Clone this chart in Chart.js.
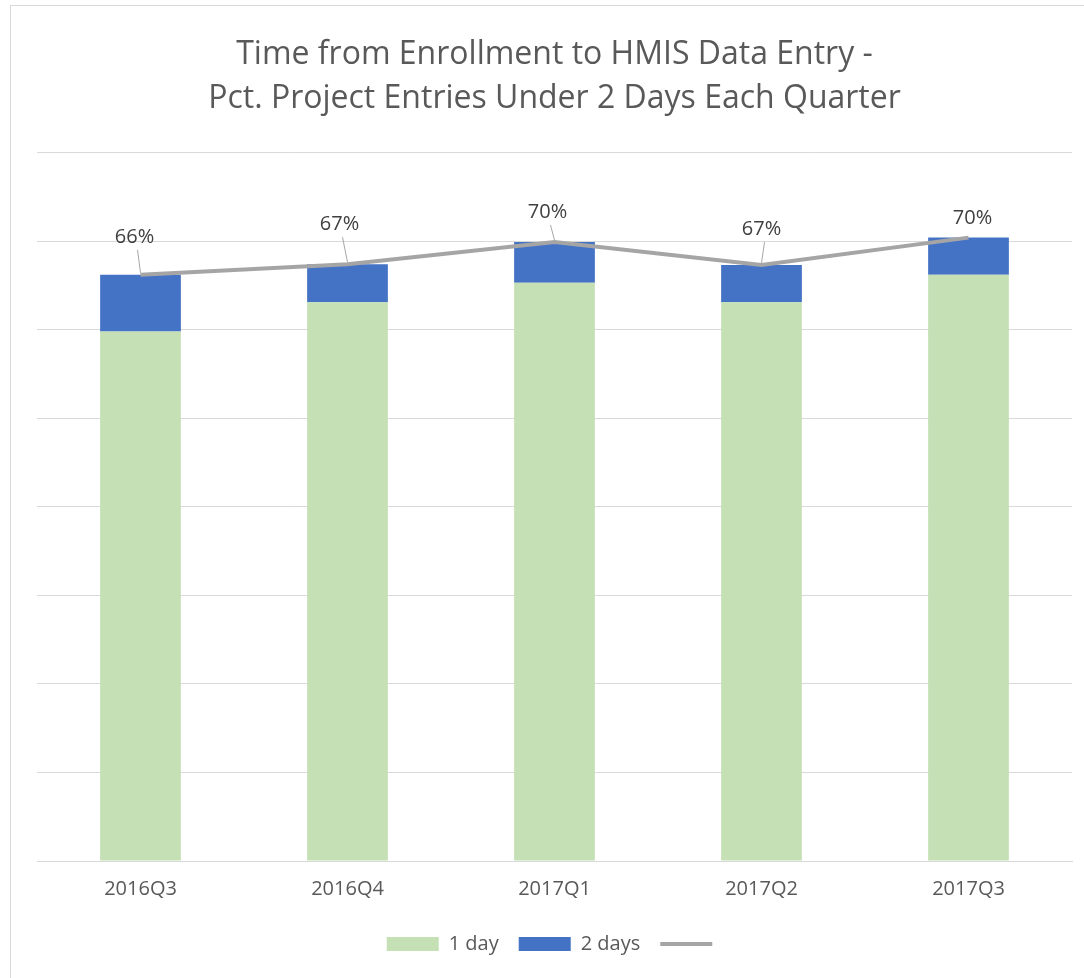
<!DOCTYPE html>
<html>
<head>
<meta charset="utf-8">
<script src="https://cdn.jsdelivr.net/npm/chart.js@4"></script>
<style>
  html, body { margin: 0; padding: 0; background: #fff; overflow: hidden; }
  #frame { position: absolute; left: 10px; top: 5px; width: 1090px; height: 1000px; border: 1px solid #d9d9d9; }
  #wrap { position: absolute; left: 0; top: 0; width: 1084px; height: 978px; }
</style>
</head>
<body>
<div id="frame"></div>
<div id="wrap"><canvas id="entryChart"></canvas></div>
<script>
const quarters = ['2016Q3', '2016Q4', '2017Q1', '2017Q2', '2017Q3'];
const oneDay = [59.8, 63.1, 65.3, 63.1, 66.2];
const twoDays = [6.4, 4.3, 4.6, 4.2, 4.2];
const underTwoDays = [66.2, 67.4, 69.9, 67.3, 70.4];
const yTicks = [0, 10, 20, 30, 40, 50, 60, 70, 80];

const fontFamily = "'Open Sans', sans-serif";

// percent labels above the line, with small leader lines (offsets in px)
const labelOffsets = [[-6, -38], [-8, -40], [-7, -30], [0, -36], [4, -19]];

const lineLabels = {
  id: 'lineLabels',
  afterDatasetsDraw(chart) {
    const meta = chart.getDatasetMeta(2);
    const ctx = chart.ctx;
    ctx.save();
    ctx.font = '20px ' + fontFamily;
    ctx.fillStyle = '#404040';
    ctx.textAlign = 'center';
    ctx.textBaseline = 'middle';
    meta.data.forEach((pt, i) => {
      const [dx, dy] = labelOffsets[i];
      const lx = pt.x + dx, ly = pt.y + dy;
      ctx.fillText(Math.round(underTwoDays[i]) + '%', lx, ly);
      if (dy < -25) {
        ctx.strokeStyle = '#a6a6a6';
        ctx.lineWidth = 1;
        ctx.beginPath();
        ctx.moveTo(lx + 3, ly + 13);
        ctx.lineTo(pt.x, pt.y - 2);
        ctx.stroke();
      }
    });
    ctx.restore();
  }
};

new Chart(document.getElementById('entryChart'), {
  type: 'bar',
  data: {
    labels: quarters,
    datasets: [{
      label: '1 day',
      data: oneDay,
      backgroundColor: '#c5e0b4',
      stack: 'days',
      order: 1,
      barPercentage: 0.78,
      categoryPercentage: 0.5
    }, {
      label: '2 days',
      data: twoDays,
      backgroundColor: '#4472c4',
      stack: 'days',
      order: 1,
      barPercentage: 0.78,
      categoryPercentage: 0.5
    }, {
      type: 'line',
      label: '',
      data: underTwoDays,
      borderColor: '#a5a5a5',
      backgroundColor: '#a5a5a5',
      borderWidth: 4,
      pointRadius: 0,
      tension: 0,
      order: 0
    }]
  },
  options: {
    responsive: true,
    maintainAspectRatio: false,
    animation: false,
    layout: { padding: { left: 37, right: 12, top: 0, bottom: 14 } },
    plugins: {
      title: {
        display: true,
        text: ['Time from Enrollment to HMIS Data Entry -', 'Pct. Project Entries Under 2 Days Each Quarter'],
        color: '#595959',
        font: { family: fontFamily, size: 32, weight: 'normal', lineHeight: 1.4 },
        padding: { top: 32, bottom: 31 }
      },
      legend: {
        position: 'bottom',
        labels: {
          color: '#595959',
          font: { family: fontFamily, size: 20 },
          usePointStyle: true,
          pointStyleWidth: 52,
          boxHeight: 14,
          padding: 20,
          sort: (a, b) => a.datasetIndex - b.datasetIndex,
          generateLabels(chart) {
            const items = Chart.defaults.plugins.legend.labels.generateLabels(chart);
            items.forEach(it => {
              it.pointStyle = it.datasetIndex === 2 ? 'line' : 'rect';
              if (it.datasetIndex !== 2) it.lineWidth = 0;
            });
            return items;
          }
        }
      },
      tooltip: { enabled: false }
    },
    scales: {
      x: {
        stacked: true,
        grid: { display: false },
        border: { color: '#d9d9d9', width: 1 },
        ticks: { color: '#595959', font: { family: fontFamily, size: 20 }, padding: 8 },
        afterFit(axis) { axis.height += 5; }
      },
      y: {
        stacked: true,
        min: 0,
        max: 80,
        afterBuildTicks(axis) { axis.ticks = yTicks.map(v => ({ value: v })); },
        ticks: { display: false },
        grid: { color: '#d9d9d9', drawTicks: false, tickLength: 0 },
        border: { display: false }
      }
    }
  },
  plugins: [lineLabels]
});
</script>
</body>
</html>
